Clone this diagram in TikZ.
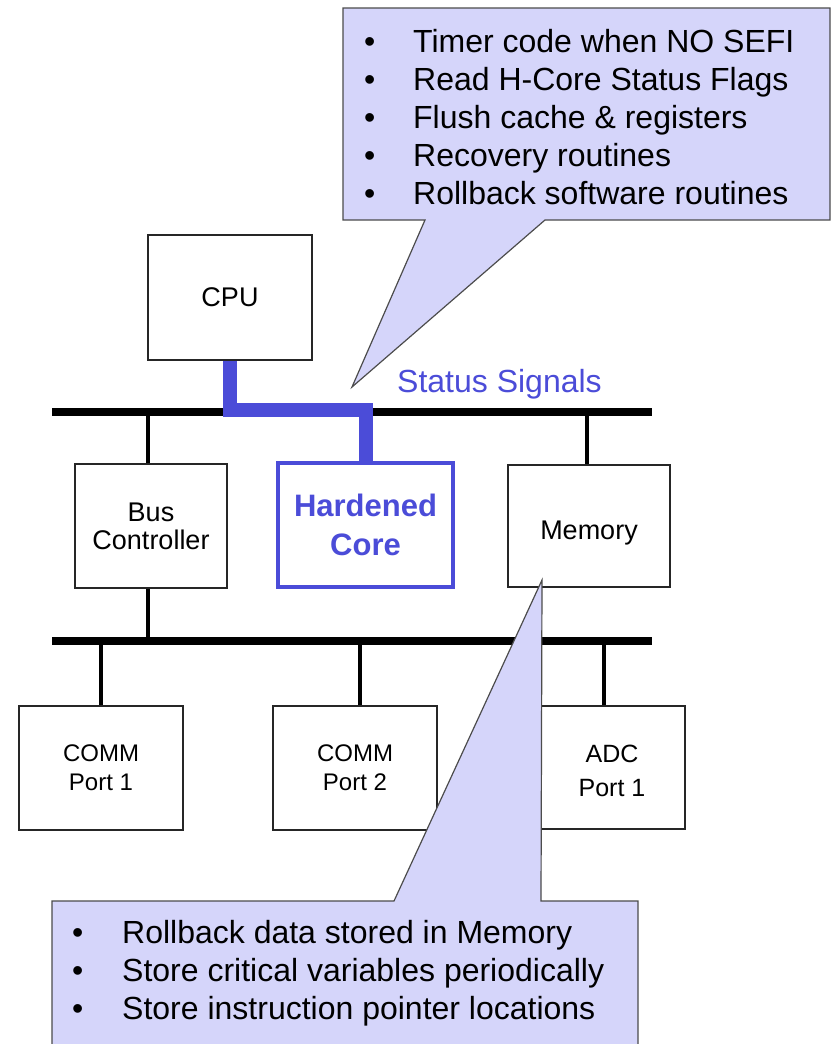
\documentclass[tikz,border=0pt]{standalone}
\usepackage{fontspec}
\setmainfont{Liberation Sans}
\definecolor{hblue}{RGB}{75,76,216}
\definecolor{lav}{RGB}{213,213,250}
\begin{document}
\begin{tikzpicture}[x=1pt,y=-1pt,
  box/.style={draw=black!85, line width=2pt, rectangle, inner sep=0pt, fill=white, align=center, font=\fontsize{27}{28}\selectfont},
  portbox/.style={box, font=\fontsize{24}{29}\selectfont},
  lbl/.style={inner sep=0pt, align=center, font=\fontsize{27}{28}\selectfont},
  bus/.style={line width=8pt, black},
  link/.style={line width=4.5pt, black},
  status/.style={line width=14pt, hblue, line join=miter},
  callout/.style={fill=lav, draw=black!70, line width=1.2pt, line join=miter},
  item/.style={anchor=base west, inner sep=0pt, font=\fontsize{32}{38}\selectfont}
]
\useasboundingbox (0,0) rectangle (831,1044);
\clip (0,0) rectangle (831,1044);

% buses
\coordinate (b1l) at (52,412); \coordinate (b1r) at (652,412);
\coordinate (b2l) at (52,641); \coordinate (b2r) at (652,641);
\coordinate (sy) at (0,410);

% boxes
\node[box, minimum width=164pt, minimum height=125pt] (cpu) at (230,297.5) {CPU};
\node[box, minimum width=152pt, minimum height=124pt] (bc) at (151,526) {Bus\\Controller};
\node[box, draw=hblue, line width=4pt, text=hblue, font=\fontsize{31}{39}\selectfont\bfseries, minimum width=175pt, minimum height=124pt] (hc) at (365.5,525) {Hardened\\Core};
\node[box, minimum width=162pt, minimum height=122pt] (mem) at (589,526) {};
\node[lbl] (memlbl) at ([yshift=-7pt]mem.center) {Memory};
\node[portbox, minimum width=164pt, minimum height=124pt] (c1) at (101,768) {COMM\\Port 1};
\node[portbox, minimum width=164pt, minimum height=124pt] (c2) at (355,768) {COMM\\Port 2};
\node[portbox, minimum width=146pt, minimum height=123pt] (adc) at (612,767.5) {};
\node[lbl, font=\fontsize{25}{34}\selectfont] (adclbl) at ([yshift=-3pt]adc.center) {ADC\\Port 1};

% bus lines and links
\draw[bus] (b1l) -- (b1r);
\draw[bus] (b2l) -- (b2r);
\draw[link] ([xshift=-3pt]bc.north) -- ([xshift=-3pt]bc.north |- b1l);
\draw[link] ([xshift=-3pt]bc.south) -- ([xshift=-3pt]bc.south |- b2l);
\draw[link] ([xshift=-2pt]mem.north) -- ([xshift=-2pt]mem.north |- b1l);
\draw[link] (c1.north) -- (c1.north |- b2l);
\draw[link] ([xshift=5pt]c2.north) -- ([xshift=5pt]c2.north |- b2l);
\draw[link] ([xshift=-8pt]adc.north) -- ([xshift=-8pt]adc.north |- b2l);

% status signal path
\draw[status] (cpu.south) -- (cpu.south |- sy) -| (hc.north);
\node[anchor=base west, inner sep=0pt, text=hblue, font=\fontsize{32}{38}\selectfont] (ss) at (397,392) {Status Signals};

% top callout
\coordinate (tipA) at (352,387);
\draw[callout] (343,8) -- (830,8) -- (830,220) -- (545,220) -- (tipA) -- (425,220) -- (343,220) -- cycle;
\node[item] (t1) at (364,52) {\makebox[49pt][l]{\textbullet}Timer code when NO SEFI};
\node[item] (t2) at (364,90) {\makebox[49pt][l]{\textbullet}Read H-Core Status Flags};
\node[item] (t3) at (364,128) {\makebox[49pt][l]{\textbullet}Flush cache \& registers};
\node[item] (t4) at (364,166) {\makebox[49pt][l]{\textbullet}Recovery routines};
\node[item] (t5) at (364,204) {\makebox[49pt][l]{\textbullet}Rollback software routines};

% bottom callout
\coordinate (tipB) at (542,580);
\draw[callout] (52,901) -- (394,901) -- (tipB) -- (541,901) -- (638,901) -- (638,1060) -- (52,1060) -- cycle;
\node[item] (u1) at (72,943) {\makebox[50pt][l]{\textbullet}Rollback data stored in Memory};
\node[item] (u2) at (72,981) {\makebox[50pt][l]{\textbullet}Store critical variables periodically};
\node[item] (u3) at (72,1019) {\makebox[50pt][l]{\textbullet}Store instruction pointer locations};
\end{tikzpicture}
\end{document}
